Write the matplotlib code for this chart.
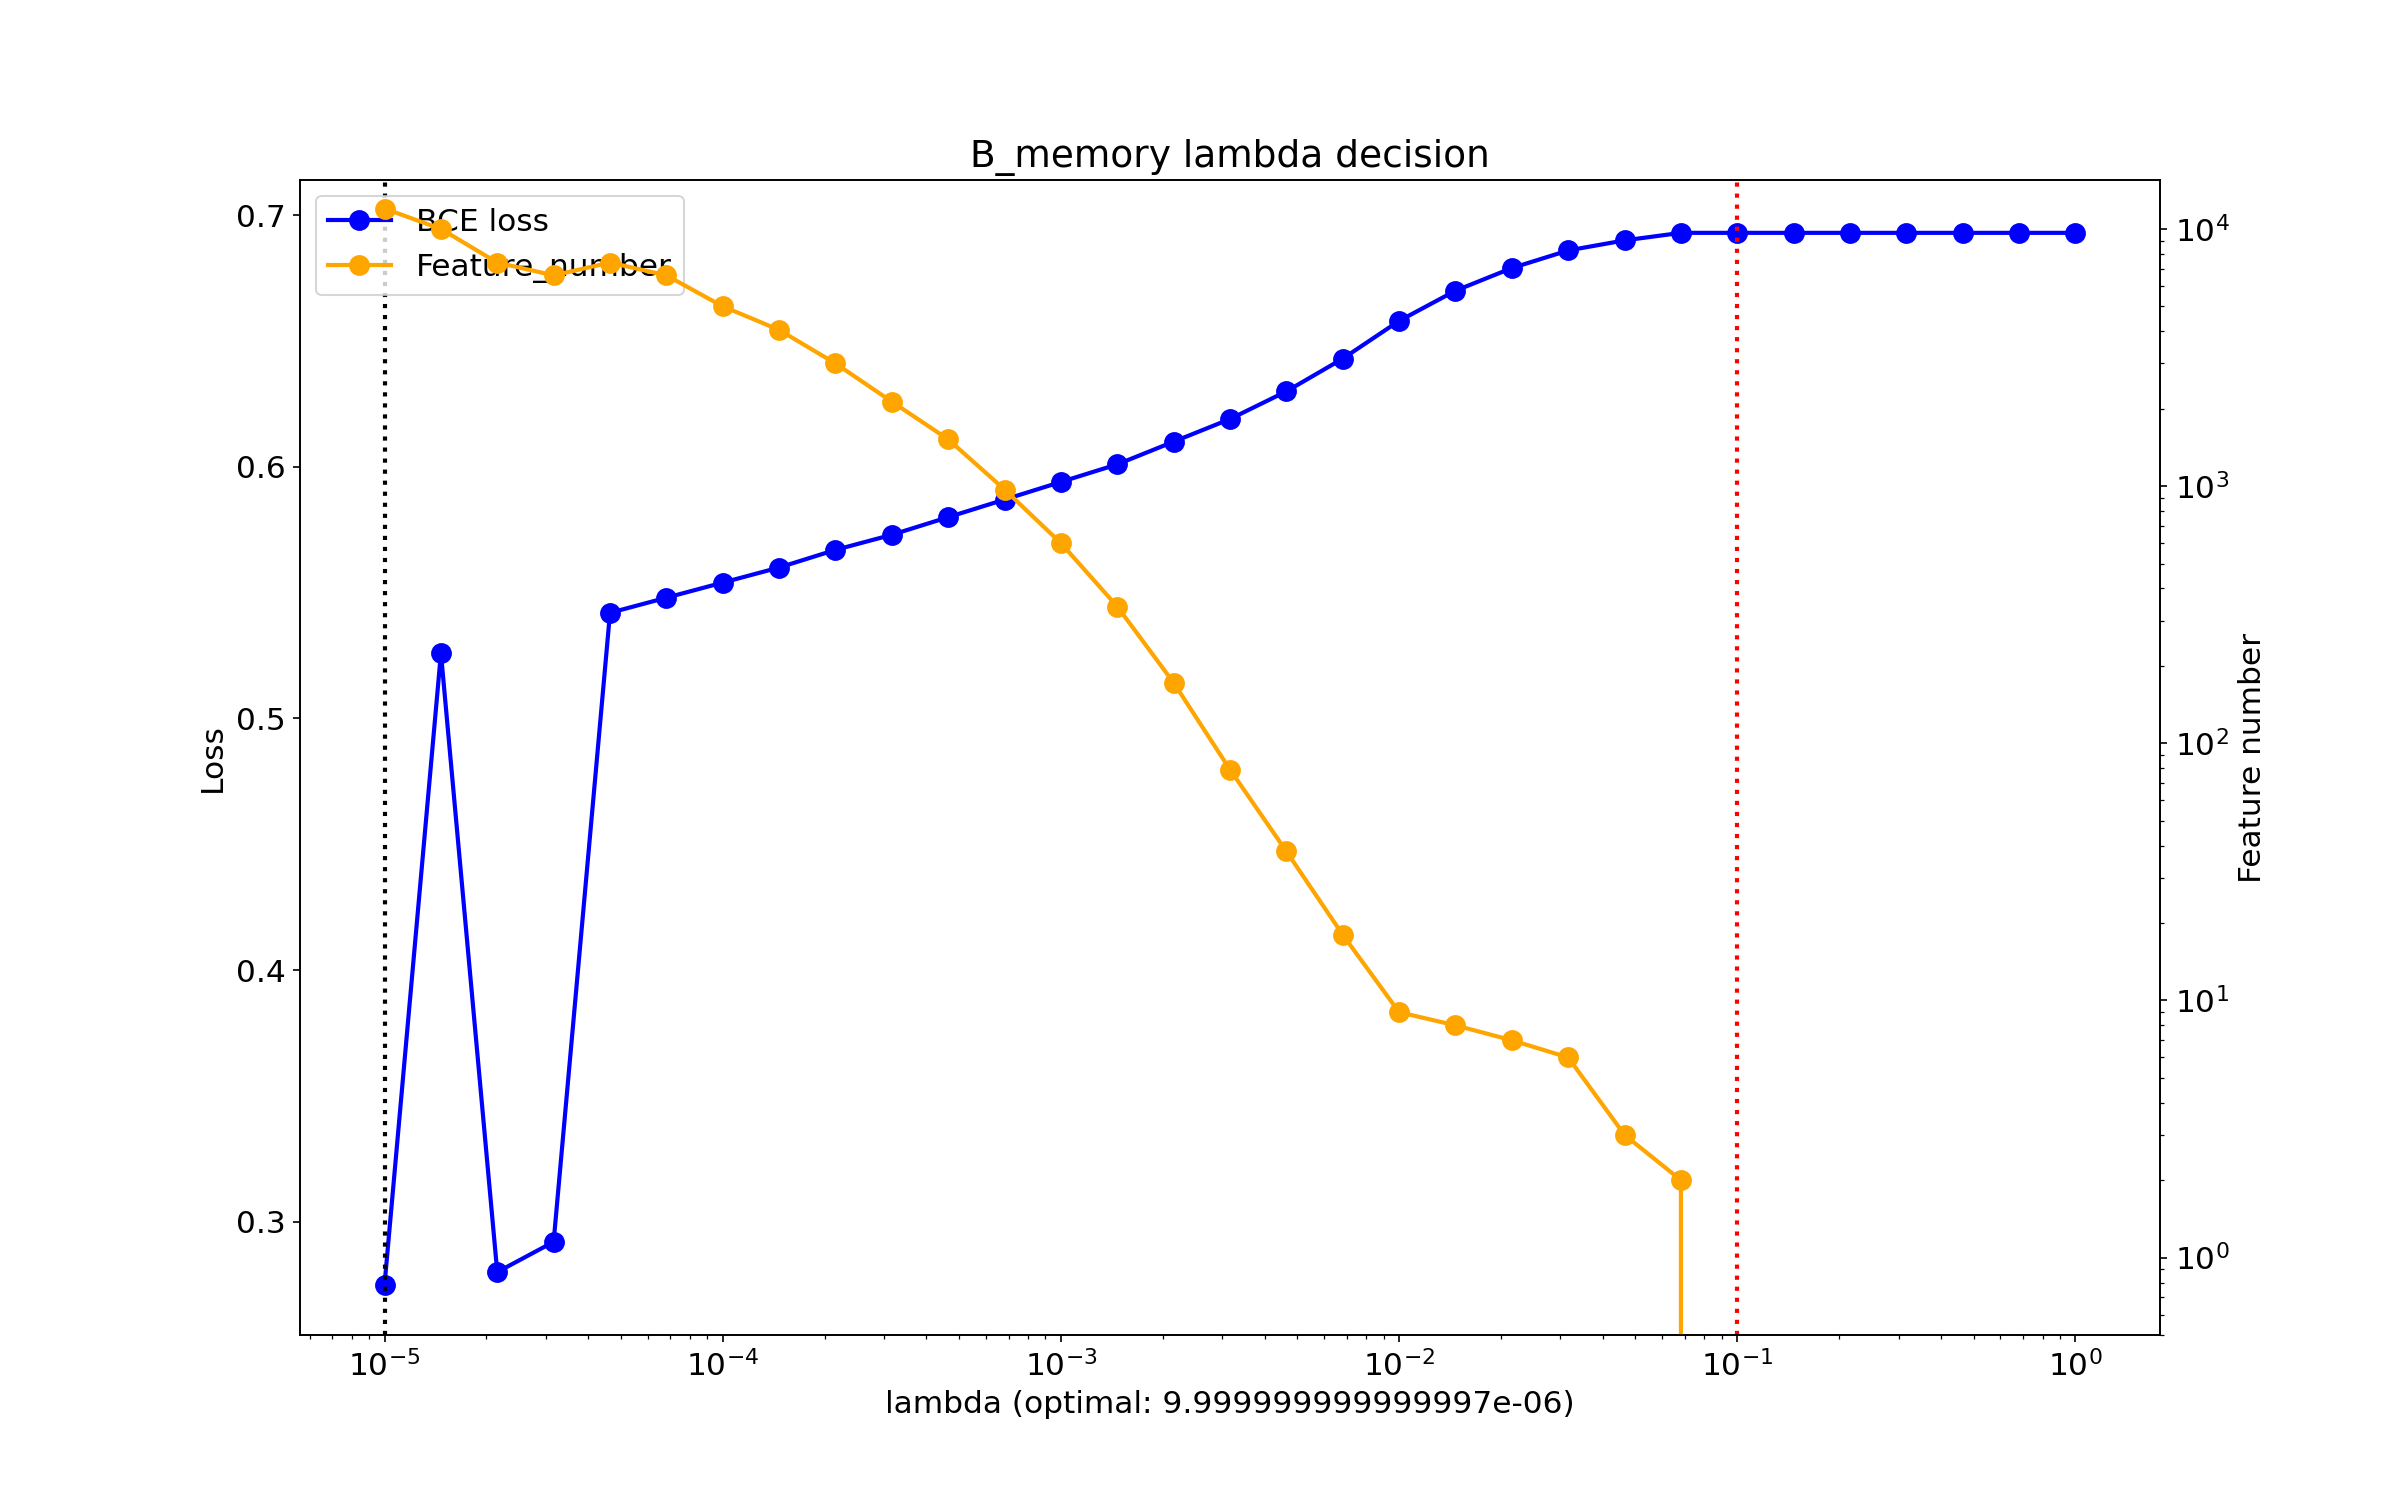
import matplotlib
matplotlib.use("Agg")
import matplotlib.pyplot as plt

# lambda grid (6 points per decade, 1e-5 .. 1)
lambdas = [1e-05, 1.468e-05, 2.154e-05, 3.162e-05, 4.642e-05, 6.813e-05,
           1e-04, 1.468e-04, 2.154e-04, 3.162e-04, 4.642e-04, 6.813e-04,
           1e-03, 1.468e-03, 2.154e-03, 3.162e-03, 4.642e-03, 6.813e-03,
           1e-02, 1.468e-02, 2.154e-02, 3.162e-02, 4.642e-02, 6.813e-02,
           1e-01, 1.468e-01, 2.154e-01, 3.162e-01, 4.642e-01, 6.813e-01, 1.0]

bce_loss = [0.275, 0.526, 0.280, 0.292, 0.542, 0.548, 0.554, 0.560, 0.567, 0.573,
            0.580, 0.587, 0.594, 0.601, 0.610, 0.619, 0.630, 0.643, 0.658, 0.670,
            0.679, 0.686, 0.690, 0.693, 0.693, 0.693, 0.693, 0.693, 0.693, 0.693, 0.693]

feature_number = [12000, 10000, 7400, 6600, 7400, 6600, 5000, 4050, 3000, 2130,
                  1520, 970, 600, 340, 172, 79, 38, 18, 9, 8,
                  7, 6, 3, 2, 0, 0, 0, 0, 0, 0, 0]

optimal = 9.999999999999997e-06
chosen = 0.1

fig, ax1 = plt.subplots(figsize=(16, 10), dpi=150)
ax2 = ax1.twinx()

l1, = ax1.plot(lambdas, bce_loss, "o-", color="blue", markersize=9, linewidth=2, label="BCE loss")
l2, = ax2.plot(lambdas, feature_number, "o-", color="orange", markersize=9, linewidth=2, label="Feature_number")
ax1.axvline(optimal, color="black", linestyle=":", linewidth=2)
ax1.axvline(chosen, color="red", linestyle=":", linewidth=2)

ax1.set_xscale("log")
ax2.set_yscale("log")
ax1.set_ylim(0.255, 0.714)
ax2.set_ylim(0.5, 15500)

ax1.set_xlabel("lambda (optimal: %s)" % optimal, fontsize=15)
ax1.set_ylabel("Loss", fontsize=15)
ax2.set_ylabel("Feature number", fontsize=15)
ax1.set_title("B_memory lambda decision", fontsize=18)
ax1.tick_params(labelsize=15)
ax2.tick_params(labelsize=15)
ax1.legend(handles=[l1, l2], loc="upper left", fontsize=15)

fig.savefig("out.png", dpi=150)
